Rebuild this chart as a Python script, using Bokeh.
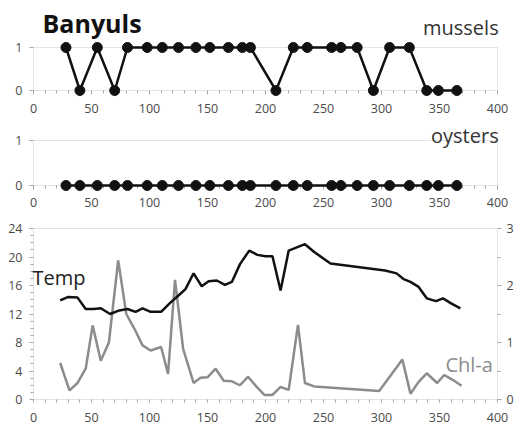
from bokeh.plotting import figure
from bokeh.models import Range1d, FixedTicker, LinearAxis, Label, BoxAnnotation
from bokeh.layouts import column
from bokeh.embed import file_html
from bokeh.resources import INLINE

# ---- data ----
days = [28, 40, 55, 70, 81, 98, 111, 125, 140, 152, 168, 180, 187, 209, 224, 236,
        257, 265, 279, 293, 307, 324, 339, 349, 365]
mussels = [1, 0, 1, 0, 1, 1, 1, 1, 1, 1, 1, 1, 1, 0, 1, 1, 1, 1, 1, 0, 1, 1, 0, 0, 0]
oysters = [0, 0, 0, 0, 0, 0, 0, 0, 0, 0, 0, 0, 0, 0, 0, 0, 0, 0, 0, 0, 0, 0, 0, 0, 0]

temp_days = [23, 30, 38, 45, 52, 58, 66, 74, 81, 88, 94, 101, 110, 118, 125, 131, 138, 145,
             151, 158, 165, 171, 178, 186, 193, 200, 206, 213, 220, 234, 242, 256, 303, 313,
             319, 325, 332, 339, 347, 353, 360, 368]
temp = [13.9, 14.4, 14.3, 12.7, 12.7, 12.8, 12.0, 12.5, 12.7, 12.3, 12.8, 12.3, 12.3, 13.6,
        14.6, 15.5, 17.7, 15.9, 16.6, 16.7, 16.1, 16.5, 19.0, 20.9, 20.3, 20.1, 20.1, 15.3,
        20.9, 21.8, 20.7, 19.1, 18.1, 17.7, 16.9, 16.5, 15.8, 14.2, 13.8, 14.2, 13.5, 12.8]

chl_days = [23, 31, 38, 45, 51, 58, 65, 73, 80, 87, 94, 101, 110, 116, 122, 129, 138, 144,
            150, 157, 164, 171, 178, 185, 192, 199, 206, 213, 220, 228, 234, 242, 298, 318,
            325, 332, 339, 348, 354, 361, 369]
chl = [0.64, 0.16, 0.29, 0.54, 1.30, 0.68, 1.00, 2.44, 1.50, 1.24, 0.95, 0.86, 0.92, 0.45,
       2.10, 0.89, 0.29, 0.38, 0.39, 0.54, 0.33, 0.32, 0.25, 0.40, 0.23, 0.08, 0.08, 0.22,
       0.17, 1.31, 0.29, 0.23, 0.15, 0.70, 0.10, 0.31, 0.46, 0.29, 0.43, 0.35, 0.24]

x_major = [0, 50, 100, 150, 200, 250, 300, 350, 400]
x_minor = [v for v in range(10, 400, 10) if v % 50 != 0]
temp_major = [0, 4, 8, 12, 16, 20, 24]
temp_minor = [v for v in range(1, 24) if v % 4 != 0]
chl_major = [0, 1, 2, 3]
chl_minor = [0.5, 1.5, 2.5]

FONT = "Open Sans"
AX = "#a6a6a6"
TXT = "#4a4a4a"
W = 517
PX_X = 464 / 400.0          # pixels per day
XR = (-33 / PX_X, 400 + 20 / PX_X)


def style_axis(a, standoff, tick_out=4):
    a.major_label_text_font = FONT
    a.major_label_text_font_size = "12.5px"
    a.major_label_text_color = TXT
    a.axis_line_color = None
    a.major_tick_line_color = AX
    a.minor_tick_line_color = AX
    a.major_tick_in = 0
    a.minor_tick_in = 0
    a.major_tick_out = tick_out
    a.minor_tick_out = 3
    a.major_label_standoff = standoff
    a.level = "underlay"


def make_fig(height, px_unit, px_above, px_below, ylo, yhi, x_standoff):
    # the frame covers the whole figure; all axes are pinned inside it
    yr = Range1d(ylo - px_below / px_unit, yhi + px_above / px_unit)
    p = figure(width=W, height=height, x_range=Range1d(*XR), y_range=yr,
               output_backend="svg", toolbar_location=None,
               min_border_left=0, min_border_right=0,
               min_border_top=0, min_border_bottom=0)
    p.xgrid.visible = False
    p.ygrid.visible = False
    p.outline_line_color = None
    p.background_fill_color = "white"
    p.border_fill_color = "white"
    p.xaxis.fixed_location = ylo
    p.yaxis.fixed_location = 0
    p.xaxis.ticker = FixedTicker(ticks=x_major, minor_ticks=x_minor)
    style_axis(p.xaxis[0], x_standoff)
    style_axis(p.yaxis[0], 7)
    p.add_layout(BoxAnnotation(left=0, right=400, bottom=ylo, top=yhi, fill_color=None,
                               line_color=AX, line_width=1, level="underlay"))
    return p


def presence_panel(height, px_unit, px_above, px_below, vals, label, label_y, x_standoff):
    p = make_fig(height, px_unit, px_above, px_below, 0, 1, x_standoff)
    p.yaxis.ticker = FixedTicker(ticks=[0, 1])
    p.line(days, vals, color="#111111", line_width=2.5)
    p.scatter(days, vals, size=10, color="#111111")
    p.add_layout(Label(x=401, y=label_y, text=label, text_align="right",
                       text_baseline="alphabetic", text_font=FONT,
                       text_font_size="20px", text_color="#333333"))
    return p


p1 = presence_panel(121, 43, 47, 31, mussels, "mussels", 1.466, 9)
p1.add_layout(Label(x=7.8, y=1.58, text="Banyuls", text_align="left",
                    text_baseline="alphabetic", text_font=FONT, text_font_style="bold",
                    text_font_size="25px", text_color="#111111"))

p2 = presence_panel(94, 45, 19, 30, oysters, "oysters", 1.108, 8)

p3 = make_fig(210, 171 / 24.0, 13, 26, 0, 24, 10)
p3.yaxis.ticker = FixedTicker(ticks=temp_major, minor_ticks=temp_minor)
p3.xaxis.major_tick_out = 3
p3.extra_y_ranges = {"chl": Range1d(-26 / 57.0, 3 + 13 / 57.0)}
ra = LinearAxis(y_range_name="chl", ticker=FixedTicker(ticks=chl_major, minor_ticks=chl_minor))
style_axis(ra, 5)
ra.fixed_location = 400
p3.add_layout(ra, "right")

p3.line(chl_days, chl, y_range_name="chl", color="#8c8c8c", line_width=2.5)
p3.line(temp_days, temp, color="#111111", line_width=2.5)
p3.add_layout(Label(x=0, y=17.1, x_offset=-1, text="Temp", text_align="left",
                    text_baseline="alphabetic", text_font=FONT, text_font_size="20px",
                    text_color="#222222"))
p3.add_layout(Label(x=396, y=4.9, text="Chl-a", text_align="right",
                    text_baseline="alphabetic", text_font=FONT, text_font_size="20px",
                    text_color="#8c8c8c"))

layout = column(p1, p2, p3, spacing=0)

open("out.html", "w").write(file_html(layout, INLINE))
